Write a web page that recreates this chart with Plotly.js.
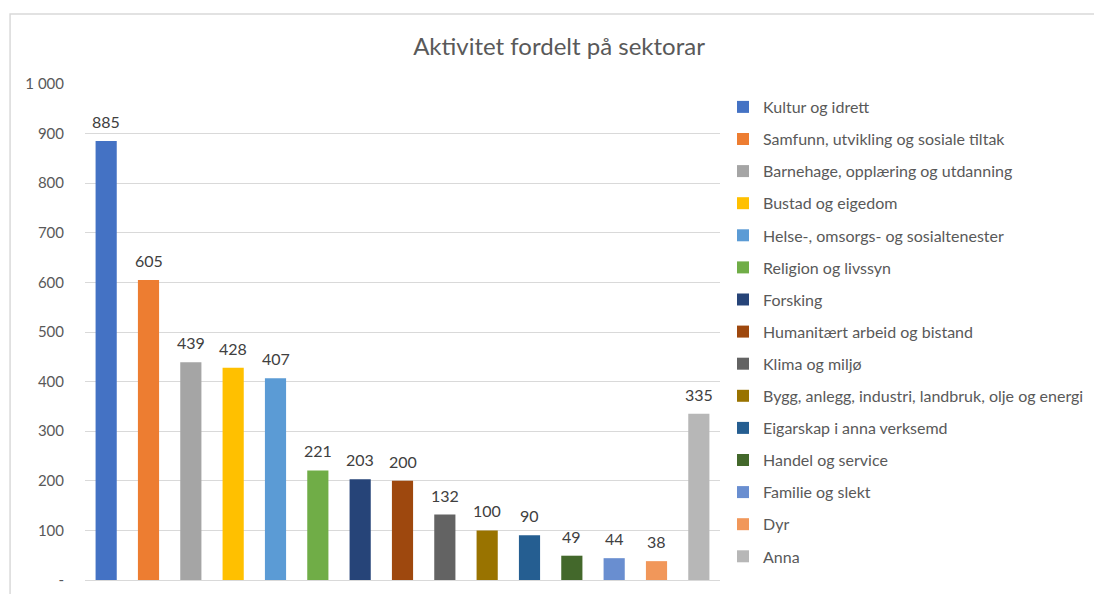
<!DOCTYPE html>
<html>
<head>
<meta charset="utf-8">
<script src="https://cdn.plot.ly/plotly-3.0.1.min.js"></script>
<style>html,body{margin:0;padding:0;background:#fff;}#chart{width:1094px;height:594px;}</style>
</head>
<body>
<div id="chart"></div>
<script>
const categories = [
  "Kultur og idrett",
  "Samfunn, utvikling og sosiale tiltak",
  "Barnehage, opplæring og utdanning",
  "Bustad og eigedom",
  "Helse-, omsorgs- og sosialtenester",
  "Religion og livssyn",
  "Forsking",
  "Humanitært arbeid og bistand",
  "Klima og miljø",
  "Bygg, anlegg, industri, landbruk, olje og energi",
  "Eigarskap i anna verksemd",
  "Handel og service",
  "Familie og slekt",
  "Dyr",
  "Anna"
];
const values = [885, 605, 439, 428, 407, 221, 203, 200, 132, 100, 90, 49, 44, 38, 335];
const colors = ["#4472c4","#ed7d31","#a5a5a5","#ffc000","#5b9bd5","#70ad47","#264478","#9e480e","#636363","#997300","#255e91","#43682b","#698ed0","#f1975a","#b7b7b7"];
const tickVals = [0,100,200,300,400,500,600,700,800,900,1000];
const tickText = ["-","100","200","300","400","500","600","700","800","900","1 000"];

const FONT = "Lato, 'Open Sans', sans-serif";
const traces = categories.map((c, i) => ({
  type: "bar",
  name: c,
  x: [c],
  y: [values[i]],
  width: 0.5,
  marker: {color: colors[i]},
  legendgroup: "g" + i,
  hoverinfo: "x+y"
}));

const annotations = categories.map((c, i) => ({
  xref: "x", yref: "y",
  x: c, y: values[i],
  text: String(values[i]),
  showarrow: false,
  yanchor: "bottom",
  yshift: 8,
  font: {family: FONT, size: 16, color: "#404040"}
}));

const layout = {
  width: 1094, height: 594,
  margin: {l: 85, r: 374, t: 84, b: 14, pad: 0},
  paper_bgcolor: "#ffffff", plot_bgcolor: "#ffffff",
  barmode: "overlay",
  font: {family: FONT, color: "#595959"},
  title: {text: "Aktivitet fordelt på sektorar", x: 0.511, xanchor: "center", y: 0.921, yanchor: "middle", font: {family: FONT, size: 24, color: "#595959"}},
  xaxis: {showticklabels: false, showgrid: false, zeroline: false, showline: false, ticks: "", fixedrange: true, categoryorder: "array", categoryarray: categories},
  yaxis: {range: [0, 1000], tickvals: tickVals, ticktext: tickText, showgrid: true, gridcolor: "#d9d9d9", gridwidth: 1, zeroline: true, zerolinecolor: "#d9d9d9", zerolinewidth: 1, showline: false, ticks: "", ticklen: 0, ticklabelstandoff: 20, tickfont: {family: FONT, size: 15, color: "#595959"}, automargin: false},
  showlegend: true,
  legend: {xref: "container", yref: "container", x: 0.6609, xanchor: "left", y: 0.8485, yanchor: "top", maxheight: 580, font: {family: FONT, size: 16, color: "#595959"}, tracegroupgap: 8.3, itemwidth: 30, bgcolor: "rgba(0,0,0,0)"},
  annotations: annotations,
  shapes: [{type: "rect", xref: "paper", yref: "paper", x0: -0.118, x1: 1.7, y0: -0.2, y1: 1.141, line: {color: "#d9d9d9", width: 1.5}, fillcolor: "rgba(0,0,0,0)", layer: "below"}]
};

Plotly.newPlot("chart", traces, layout, {displayModeBar: false, staticPlot: true});
</script>
</body>
</html>
